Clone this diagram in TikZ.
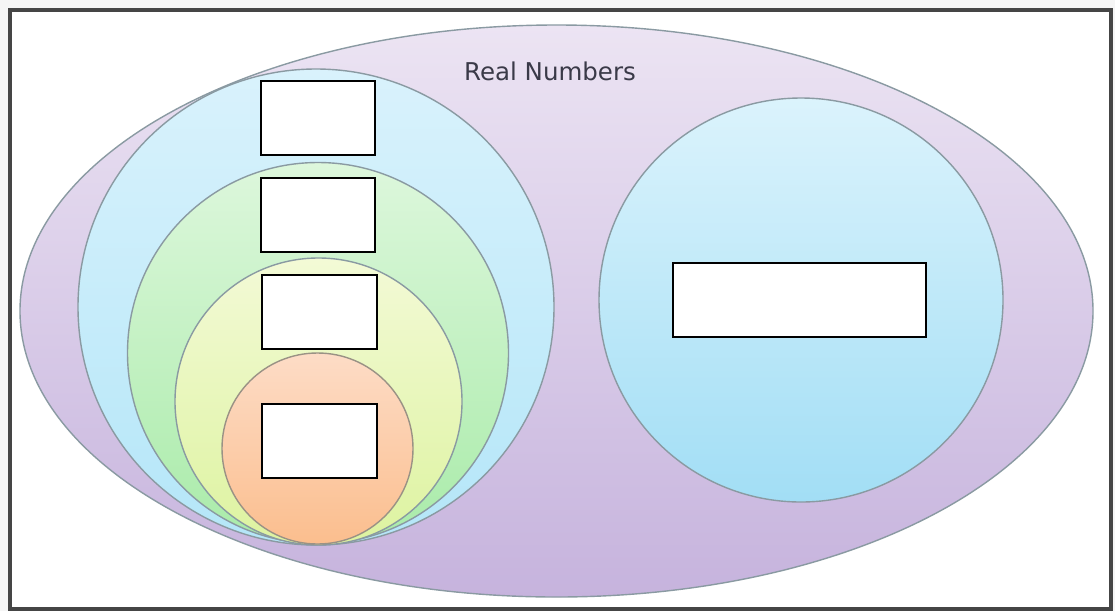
\documentclass[tikz,border=0pt]{standalone}
\usepackage{fontspec}
\setmainfont{DejaVu Sans}
\usetikzlibrary{shapes.geometric}
\definecolor{frameC}{HTML}{454545}
\definecolor{edgeC}{HTML}{8A9AA2}
\definecolor{purpTop}{HTML}{ECE4F3}
\definecolor{purpBot}{HTML}{C6B3DD}
\definecolor{blueTop}{HTML}{D9F2FC}
\definecolor{blueBot}{HTML}{B4E6F8}
\definecolor{rblueTop}{HTML}{DBF3FC}
\definecolor{rblueBot}{HTML}{A2DEF5}
\definecolor{greenTop}{HTML}{DDF7DC}
\definecolor{greenBot}{HTML}{A9EBA9}
\definecolor{yelTop}{HTML}{F3FAD6}
\definecolor{yelBot}{HTML}{DDF3A0}
\definecolor{orTop}{HTML}{FDDCC6}
\definecolor{orBot}{HTML}{FBBE8E}
\definecolor{textC}{HTML}{3A3A48}
\tikzset{
  setshape/.style={circle, inner sep=0pt, draw=edgeC, line width=1.4pt},
  labelbox/.style={rectangle, draw=black, fill=white, line width=1.2pt, inner sep=0pt},
}
\begin{document}
\begin{tikzpicture}[x=1pt, y=-1pt]
\useasboundingbox (0,0) rectangle (1115,611);
\fill[gray!8] (0,0) rectangle (1115,611);
\fill[white] (10,10) rectangle (1111,609);
% real numbers ellipse
\node[ellipse, inner sep=0pt, draw=edgeC, line width=1.4pt,
  minimum width=1073pt, minimum height=572pt,
  top color=purpTop, bottom color=purpBot] (real) at (556.5,311) {};
\node[anchor=base, text=textC, font=\fontsize{24.5}{26}\selectfont] (reallabel) at (550,80) {Real Numbers};
% left nested circles
\node[setshape, minimum size=476pt, top color=blueTop, bottom color=blueBot] (rational) at (316,307) {};
\node[setshape, minimum size=381pt, top color=greenTop, bottom color=greenBot] (integer) at (318,353) {};
\node[setshape, minimum size=287pt, top color=yelTop, bottom color=yelBot] (whole) at (318.5,401.5) {};
\node[setshape, draw=edgeC!70!brown, minimum size=191pt, top color=orTop, bottom color=orBot] (natural) at (317.5,448.5) {};
% right circle
\node[setshape, minimum size=404pt, top color=rblueTop, bottom color=rblueBot] (irrational) at (801,300) {};
% label boxes
\node[labelbox, minimum width=114pt, minimum height=74pt] (box1) at (318,118) {};
\node[labelbox, minimum width=114pt, minimum height=74pt] (box2) at (318,215) {};
\node[labelbox, minimum width=115pt, minimum height=74pt] (box3) at (319.5,312) {};
\node[labelbox, minimum width=115pt, minimum height=74pt] (box4) at (319.5,441) {};
\node[labelbox, minimum width=253pt, minimum height=74pt] (box5) at (799.5,300) {};
% frame
\draw[frameC, line width=4pt] (10,10) rectangle (1111,609);
\end{tikzpicture}
\end{document}
